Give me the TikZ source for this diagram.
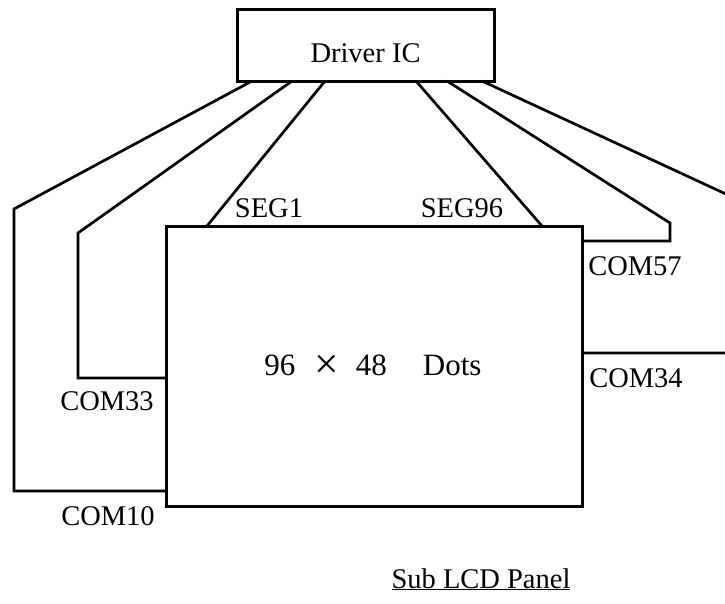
\documentclass[tikz,border=0pt]{standalone}
\usepackage{fontspec}
\setmainfont{Liberation Serif}
\usetikzlibrary{positioning,calc}

\begin{document}
\begin{tikzpicture}[x=1pt,y=-1pt,
    box/.style={draw, line width=3pt, inner sep=0pt, outer sep=0pt},
    wire/.style={line width=2.7pt, line join=miter},
    lbl/.style={font=\fontsize{28.5}{33}\selectfont, inner sep=0pt, anchor=base}]
    \useasboundingbox (0,0) rectangle (725,603);
    % driver and panel
    \node[box, font=\fontsize{28.5}{33}\selectfont, minimum width=257pt, minimum height=72pt,
          text height=34pt, text depth=0pt] (driver) at (365.5,45) {Driver IC};
    \node[box, minimum width=416pt, minimum height=280pt] (panel) at (374,366) {};
    \node[lbl, font=\fontsize{31}{36}\selectfont] (dots) at (373,375)
        {96\hspace{19pt}\raisebox{-3.5pt}{\scalebox{1.4}{×}}\hspace{17pt}48\hspace{36pt}Dots};
    % bends of the common lines
    \coordinate (c10) at (14,209);
    \coordinate (c33) at (78,233);
    \coordinate (c57) at (670,223);
    \coordinate (c34) at (728,195);
    % wires
    \draw[wire] ($(driver.south west)+(15,0)$) -- (c10) |- ($(panel.north west)+(0,265)$);
    \draw[wire] ($(driver.south west)+(55,0)$) -- (c33) |- ($(panel.north west)+(0,152)$);
    \draw[wire] ($(driver.south west)+(88,0)$) -- ($(panel.north west)+(41,0)$);
    \draw[wire] ($(driver.south west)+(179,0)$) -- ($(panel.north east)+(-40,0)$);
    \draw[wire] ($(driver.south west)+(210,0)$) -- (c57) |- ($(panel.north east)+(0,15)$);
    \draw[wire] ($(driver.south west)+(245,0)$) -- (c34) |- ($(panel.north east)+(0,127)$);
    % labels
    \node[lbl] (seg1) at (269,217) {SEG1};
    \node[lbl] (seg96) at (462,217) {SEG96};
    \node[lbl] (com57) at (635,275) {COM57};
    \node[lbl] (com34) at (636,387) {COM34};
    \node[lbl] (com33) at (107,410) {COM33};
    \node[lbl] (com10) at (108,525) {COM10};
    \node[lbl] (title) at (481,588) {\underline{Sub LCD Panel}};
\end{tikzpicture}
\end{document}
